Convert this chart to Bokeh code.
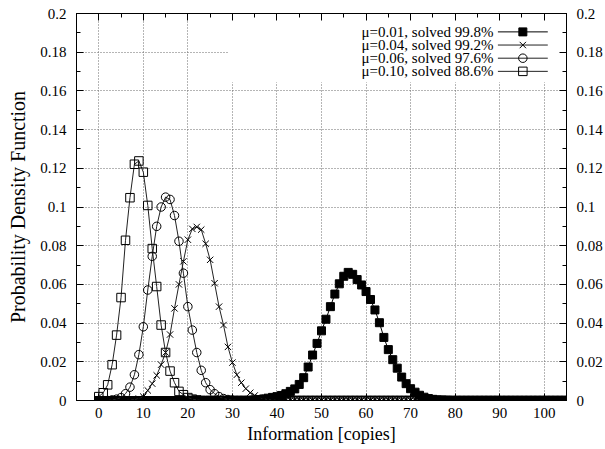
from bokeh.plotting import figure
from bokeh.models import (Range1d, LinearAxis, SingleIntervalTicker,
                          CustomJSTickFormatter, BoxAnnotation, ColumnDataSource)
from bokeh.core.properties import value
from bokeh.embed import file_html
from bokeh.resources import INLINE

# ---------------- data ----------------
copies = list(range(0, 106))

pdf_mu001 = [
    0, 0, 0, 0, 0, 0, 0, 0, 0, 0,
    0, 0, 0, 0, 0, 0, 0, 0, 0, 0,
    0, 0, 0, 0, 0, 0, 0, 0, 0, 0,
    0, 0, 0, 0, 0, 0.0003, 0.0005, 0.0008, 0.0012, 0.0016,
    0.0020, 0.0026, 0.0035, 0.0047, 0.0060, 0.0083, 0.0118, 0.0173, 0.0235, 0.0295,
    0.0360, 0.0420, 0.0485, 0.0550, 0.0603, 0.0642, 0.0662, 0.0652, 0.0625, 0.0597,
    0.0563, 0.0522, 0.0468, 0.0402, 0.0326, 0.0263, 0.0211, 0.0167, 0.0121, 0.0087,
    0.0061, 0.0043, 0.0027, 0.0017, 0.0010, 0.0006, 0.0003, 0.0002, 0.0001, 0,
    0, 0, 0, 0, 0, 0, 0, 0, 0, 0,
    0, 0, 0, 0, 0, 0, 0, 0, 0, 0,
    0, 0, 0, 0, 0, 0,
]

pdf_mu004 = [
    0, 0, 0, 0, 0, 0, 0, 0.0002, 0.0005, 0.0010,
    0.0020, 0.0052, 0.0087, 0.0130, 0.0185, 0.0248, 0.0341, 0.0476, 0.0600, 0.0719,
    0.0831, 0.0887, 0.0897, 0.0883, 0.0810, 0.0727, 0.0606, 0.0485, 0.0390, 0.0277,
    0.0196, 0.0133, 0.0092, 0.0061, 0.0040, 0.0026, 0.0015, 0.0009, 0.0005, 0.0002,
    0.0001, 0, 0, 0, 0, 0, 0, 0, 0, 0,
    0, 0, 0, 0, 0, 0, 0, 0, 0, 0,
    0, 0, 0, 0, 0, 0, 0, 0, 0, 0,
    0, 0, 0, 0, 0, 0, 0, 0, 0, 0,
    0, 0, 0, 0, 0, 0, 0, 0, 0, 0,
    0, 0, 0, 0, 0, 0, 0, 0, 0, 0,
    0, 0, 0, 0, 0, 0,
]

pdf_mu006 = [
    0, 0, 0, 0.0003, 0.0007, 0.0015, 0.0035, 0.0069, 0.0133, 0.0237,
    0.0381, 0.0571, 0.0745, 0.0900, 0.1000, 0.1051, 0.1039, 0.0956, 0.0823, 0.0658,
    0.0485, 0.0364, 0.0248, 0.0156, 0.0092, 0.0056, 0.0035, 0.0020, 0.0010, 0.0005,
    0.0002, 0, 0, 0, 0, 0, 0, 0, 0, 0,
    0, 0, 0, 0, 0, 0, 0, 0, 0, 0,
    0, 0, 0, 0, 0, 0, 0, 0, 0, 0,
    0, 0, 0, 0, 0, 0, 0, 0, 0, 0,
    0, 0, 0, 0, 0, 0, 0, 0, 0, 0,
    0, 0, 0, 0, 0, 0, 0, 0, 0, 0,
    0, 0, 0, 0, 0, 0, 0, 0, 0, 0,
    0, 0, 0, 0, 0, 0,
]

pdf_mu010 = [
    0.0020, 0.0040, 0.0081, 0.0185, 0.0338, 0.0532, 0.0828, 0.1048, 0.1221, 0.1238,
    0.1180, 0.1008, 0.0785, 0.0589, 0.0390, 0.0248, 0.0152, 0.0092, 0.0047, 0.0030,
    0.0015, 0.0007, 0.0003, 0, 0, 0, 0, 0, 0, 0,
    0, 0, 0, 0, 0, 0, 0, 0, 0, 0,
    0, 0, 0, 0, 0, 0, 0, 0, 0, 0,
    0, 0, 0, 0, 0, 0, 0, 0, 0, 0,
    0, 0, 0, 0, 0, 0, 0, 0, 0, 0,
    0, 0, 0, 0, 0, 0, 0, 0, 0, 0,
    0, 0, 0, 0, 0, 0, 0, 0, 0, 0,
    0, 0, 0, 0, 0, 0, 0, 0, 0, 0,
    0, 0, 0, 0, 0, 0,
]

series_labels = [
    "\u03bc=0.01, solved 99.8%",
    "\u03bc=0.04, solved 99.2%",
    "\u03bc=0.06, solved 97.6%",
    "\u03bc=0.10, solved 88.6%",
]

x_title = "Information [copies]"
y_title = "Probability Density Function"

# ---------------- style ----------------
FONT = "Liberation Serif"
FONT_AX = "'Liberation Serif', serif"
X_MIN, X_MAX = -5, 105
Y_MIN, Y_MAX = 0, 0.2

p = figure(width=605, height=449, output_backend="svg", toolbar_location=None,
           x_range=Range1d(X_MIN, X_MAX), y_range=Range1d(Y_MIN, Y_MAX),
           min_border_left=76, min_border_right=39, min_border_top=13,
           min_border_bottom=49, background_fill_color="white",
           border_fill_color="white")

p.outline_line_color = "black"
p.outline_line_width = 1

xt = SingleIntervalTicker(interval=10, num_minor_ticks=2)
yt = SingleIntervalTicker(interval=0.02, num_minor_ticks=2)
yfmt = CustomJSTickFormatter(
    code="var s = tick.toFixed(2); s = s.replace(/0+$/, ''); s = s.replace(/\\.$/, ''); return s;")
blank = CustomJSTickFormatter(code="return '';")


def style_axis(ax):
    ax.axis_line_color = "black"
    ax.major_tick_in = 7
    ax.major_tick_out = 0
    ax.minor_tick_in = 4
    ax.minor_tick_out = 0
    ax.major_tick_line_color = "black"
    ax.minor_tick_line_color = "black"
    ax.major_label_text_font = FONT_AX
    ax.major_label_text_font_size = "15px"
    ax.major_label_text_font_style = "normal"
    ax.major_label_text_color = "black"
    ax.axis_label_text_font = FONT_AX
    ax.axis_label_text_font_style = "normal"
    ax.axis_label_text_color = "black"


xa = p.xaxis[0]
xa.ticker = xt
style_axis(xa)
xa.major_label_standoff = 7
xa.axis_label = x_title
xa.axis_label_text_font_size = "18px"
xa.axis_label_standoff = 3

ya = p.yaxis[0]
ya.ticker = yt
ya.formatter = yfmt
style_axis(ya)
ya.major_label_standoff = 10
ya.axis_label = y_title
ya.axis_label_text_font_size = "20px"
ya.axis_label_standoff = 8

ra = LinearAxis(ticker=yt, formatter=yfmt)
style_axis(ra)
ra.major_label_standoff = 10
p.add_layout(ra, "right")

ta = LinearAxis(ticker=xt, formatter=blank)
style_axis(ta)
ta.major_label_standoff = 0
p.add_layout(ta, "above")

for g in (p.xgrid[0], p.ygrid[0]):
    g.grid_line_color = "#6a6a6a"
    g.grid_line_dash = "1 2"
    g.grid_line_width = 1
p.xgrid[0].ticker = xt
p.ygrid[0].ticker = yt

# key area is kept clear of the grid, as in the original
key_box = BoxAnnotation(left=29.1, right=X_MAX, top=Y_MAX, bottom=0.1645,
                        fill_color="white", fill_alpha=1.0, line_color=None,
                        level="underlay")
p.add_layout(key_box)

# ---------------- series ----------------
src = ColumnDataSource(dict(x=copies, a=pdf_mu001, b=pdf_mu004,
                            c=pdf_mu006, d=pdf_mu010))

specs = [
    ("a", "square", 8, "black", 1.0, "black"),
    ("b", "x", 9, None, 0.0, "#222222"),
    ("c", "circle", 8.5, None, 0.0, "#222222"),
    ("d", "square", 8.5, None, 0.0, "#222222"),
]

for col, marker, size, fill, falpha, lcol in specs:
    p.line("x", col, source=src, line_color=lcol, line_width=1)
    p.scatter("x", col, source=src, marker=marker, size=size,
              line_color="black", line_width=1,
              fill_color=fill if fill else "white", fill_alpha=falpha)

# ---------------- key (text right-aligned, sample on the right) ----------------
KEY_TEXT_X = 88.6
KEY_S0, KEY_S1, KEY_M = 89.6, 100.8, 95.2
KEY_TOP = 0.1905
KEY_STEP = 0.0068

key_y = [KEY_TOP - i * KEY_STEP for i in range(len(series_labels))]
p.text(x=[KEY_TEXT_X] * len(series_labels), y=key_y, text=series_labels,
       text_font=value(FONT), text_font_size=value("15px"),
       text_align="right", text_baseline="middle", text_color="black")

for i, (col, marker, size, fill, falpha, lcol) in enumerate(specs):
    yy = key_y[i]
    p.line([KEY_S0, KEY_S1], [yy, yy], line_color=lcol, line_width=1)
    p.scatter([KEY_M], [yy], marker=marker, size=size, line_color="black",
              line_width=1, fill_color=fill if fill else "white",
              fill_alpha=falpha)

open("out.html", "w").write(file_html(p, INLINE))
